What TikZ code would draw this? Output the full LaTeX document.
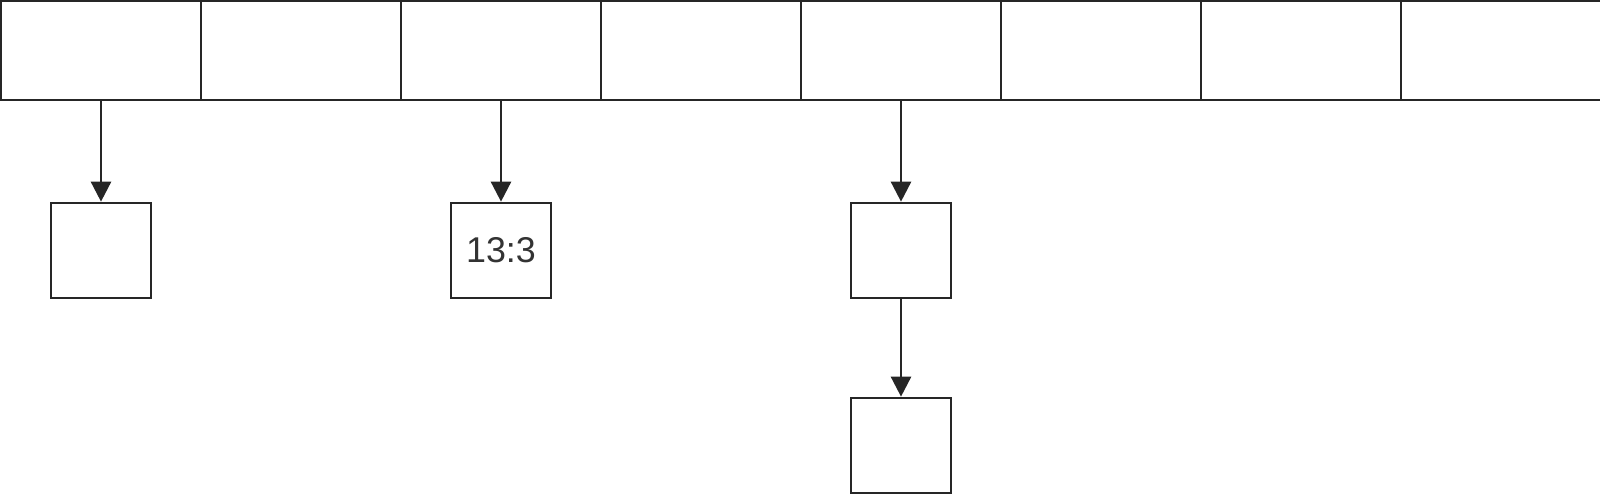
\documentclass[tikz,border=0pt]{standalone}
\usepackage{fontspec}
\setsansfont{Liberation Sans}
\usetikzlibrary{arrows.meta,positioning}
\tikzset{%
	cell/.style   = {draw, rectangle, minimum width=2cm, minimum height=0.99cm, inner sep=0pt}, % Array slot
	entry/.style  = {draw, rectangle, minimum width=1cm, minimum height=0.95cm, inner sep=0pt, text=black!80, font=\sffamily\fontsize{10.2}{12}\selectfont}, % Chained entry
	link/.style   = {-{Triangle[width=0.2cm,length=0.2cm]}},
}
\begin{document}
\begin{tikzpicture}[node distance=2cm,line width=0.75pt,draw=black!85]
	\useasboundingbox (0,0) rectangle (16,4.95);
	\node [cell] (c1) at (1.01,4.445) {};
	\node [cell] (c2) [right of=c1] {};
	\node [cell] (c3) [right of=c2] {};
	\node [cell] (c4) [right of=c3] {};
	\node [cell] (c5) [right of=c4] {};
	\node [cell] (c6) [right of=c5] {};
	\node [cell] (c7) [right of=c6] {};
	\node [cell] (c8) [right of=c7] {};
	\node [entry] (e1) [below of=c1] {};
	\node [entry] (e3) [below of=c3] {13:3};
	\node [entry] (e5) [below of=c5] {};
	\node [entry] (e5b) [below of=e5,node distance=1.95cm] {};
	
	\draw[link] (c1) -- (e1);
	\draw[link] (c3) -- (e3);
	\draw[link] (c5) -- (e5);
	\draw[link] (e5) -- (e5b);
\end{tikzpicture}
\end{document}
